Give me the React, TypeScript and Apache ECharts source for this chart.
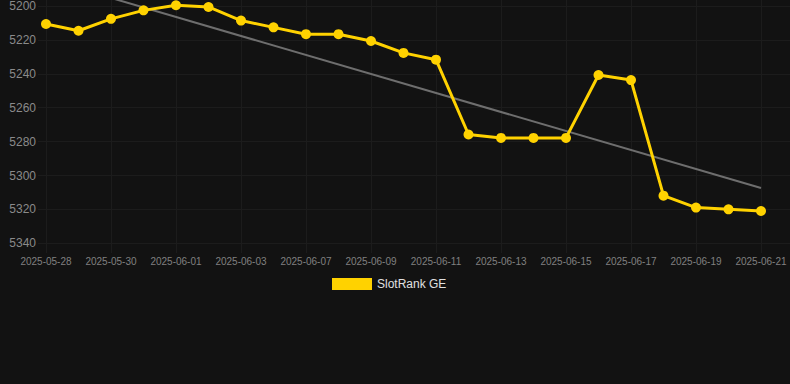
import React, { useEffect, useRef } from "react";
import * as echarts from "echarts";

const categories = [
  "2025-05-28", "2025-05-29", "2025-05-30", "2025-05-31", "2025-06-01", "2025-06-02",
  "2025-06-03", "2025-06-04", "2025-06-07", "2025-06-08", "2025-06-09", "2025-06-10",
  "2025-06-11", "2025-06-12", "2025-06-13", "2025-06-14", "2025-06-15", "2025-06-16",
  "2025-06-17", "2025-06-18", "2025-06-19", "2025-06-20", "2025-06-21",
];

const rankValues = [
  5211, 5215, 5208, 5203, 5200, 5201, 5209, 5213, 5217, 5217, 5221, 5228,
  5232, 5276, 5278, 5278, 5278, 5241, 5244, 5312, 5319, 5320, 5321,
];

const trendStart = 5184.5;
const trendEnd = 5307.5;

const yTicks = [5200, 5220, 5240, 5260, 5280, 5300, 5320, 5340];

const seriesName = "SlotRank GE";

export default function App() {
  const ref = useRef<HTMLDivElement>(null);

  useEffect(() => {
    if (!ref.current) return;
    const chart = echarts.init(ref.current, undefined, { renderer: "svg" });
    const trendData = categories.map((_, i) =>
      i === 0 ? trendStart : i === categories.length - 1 ? trendEnd : "-"
    );
    const gridColor = "#1c1c1c";
    chart.setOption({
      animation: false,
      backgroundColor: "#121212",
      grid: [
        { left: 46, right: 29, top: 0, bottom: 131 },
        { left: 38, right: 0, top: 5.3, bottom: 140.7 },
      ],
      legend: {
        data: [seriesName],
        left: 327,
        top: 273,
        icon: "rect",
        itemWidth: 40,
        itemHeight: 12,
        itemGap: 10,
        textStyle: { color: "#e0e0e0", fontSize: 12, fontFamily: "Liberation Sans, Arial, sans-serif" },
      },
      xAxis: [
        {
          type: "category",
          gridIndex: 0,
          data: categories,
          boundaryGap: false,
          axisLine: { show: false },
          axisTick: { show: false },
          axisLabel: {
            interval: 1,
            color: "#808080",
            fontSize: 10,
            margin: 3,
            fontFamily: "Liberation Sans, Arial, sans-serif",
          },
          splitLine: { show: true, interval: 1, lineStyle: { color: gridColor, width: 1 } },
        },
        { type: "value", gridIndex: 1, show: false, min: 0, max: 1 },
      ],
      yAxis: [
        {
          type: "value",
          gridIndex: 0,
          inverse: true,
          min: 5196.9,
          max: 5345.7,
          axisLabel: { show: false },
          axisLine: { show: false },
          axisTick: { show: false },
          splitLine: { show: false },
        },
        {
          type: "value",
          gridIndex: 1,
          inverse: true,
          min: yTicks[0],
          max: yTicks[yTicks.length - 1],
          interval: 20,
          axisLine: { show: false },
          axisTick: { show: false },
          axisLabel: {
            color: "#8a8a8a",
            fontSize: 12,
            margin: 2,
            formatter: (v: number) => String(v),
            fontFamily: "Liberation Sans, Arial, sans-serif",
          },
          splitLine: { show: true, lineStyle: { color: gridColor, width: 1 } },
        },
      ],
      series: [
        {
          name: "Trend",
          type: "line",
          xAxisIndex: 0,
          yAxisIndex: 0,
          data: trendData,
          connectNulls: true,
          clip: false,
          showSymbol: false,
          symbol: "none",
          silent: true,
          lineStyle: { color: "#6e6e6e", width: 2 },
          z: 1,
        },
        {
          name: seriesName,
          type: "line",
          xAxisIndex: 0,
          yAxisIndex: 0,
          data: rankValues,
          symbol: "circle",
          symbolSize: 10,
          itemStyle: { color: "#ffd200" },
          lineStyle: { color: "#ffd200", width: 3 },
          z: 3,
        },
      ],
    });
    return () => chart.dispose();
  }, []);

  return (
    <div
      ref={ref}
      style={{ position: "absolute", left: 0, top: 0, width: 790, height: 384, background: "#121212" }}
    />
  );
}
